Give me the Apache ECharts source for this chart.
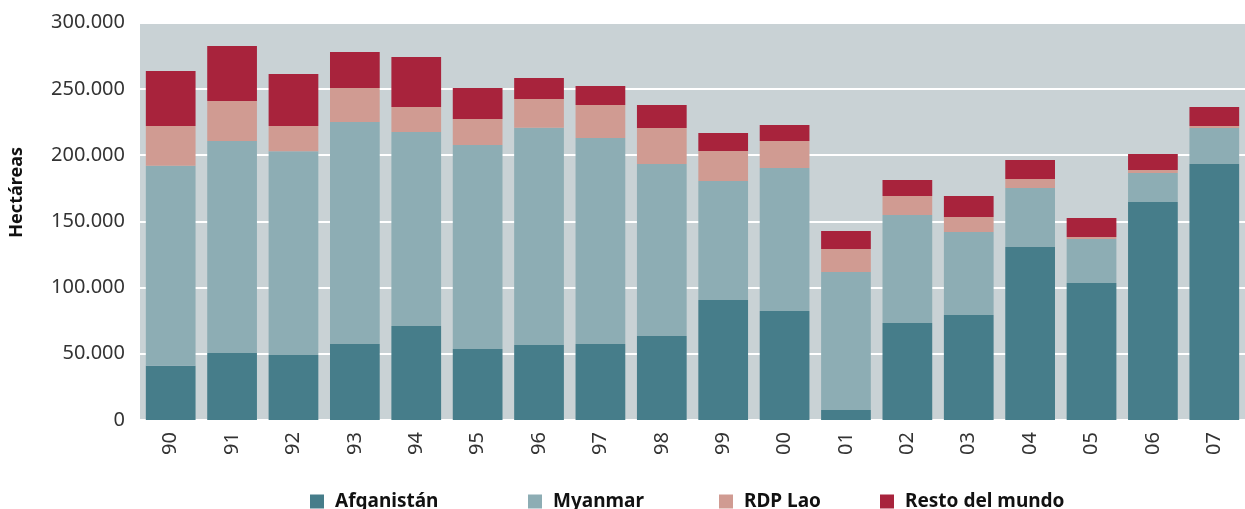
<!DOCTYPE html>
<html>
<head>
<meta charset="utf-8">
<script src="https://cdn.jsdelivr.net/npm/echarts@6/dist/echarts.min.js"></script>
<style>
	html, body { margin: 0; padding: 0; background: #fff; }
	#chart { width: 1245px; height: 509px; }
</style>
</head>
<body>
<div id="chart"></div>
<script>
	var years = ['90', '91', '92', '93', '94', '95', '96', '97', '98', '99', '00', '01', '02', '03', '04', '05', '06', '07'];
	var afganistan = [41000, 50600, 49000, 57400, 71000, 53600, 56600, 57400, 63400, 90600, 82300, 7600, 73200, 79300, 130600, 103400, 164600, 193300];
	var myanmar = [151000, 160100, 154000, 167600, 146500, 154100, 164100, 155500, 129900, 89900, 108000, 104200, 81600, 62700, 44600, 33300, 21900, 27200];
	var rdpLao = [30000, 30200, 19000, 25700, 18800, 19600, 21700, 25000, 27200, 22600, 20400, 17300, 14300, 11300, 6800, 1500, 2300, 1500];
	var resto = [41500, 41500, 39300, 27200, 37800, 23400, 15800, 14300, 17400, 13600, 12100, 13600, 12100, 15800, 14300, 14300, 12100, 14300];
	var yTicks = [0, 50000, 100000, 150000, 200000, 250000, 300000];

	var colors = ['#467d8a', '#8dadb4', '#d09b92', '#a8233c'];
	var names = ['Afganistán', 'Myanmar', 'RDP Lao', 'Resto del mundo'];
	var values = [afganistan, myanmar, rdpLao, resto];
	// each legend item placed on its own, as the gaps are uneven
	var legendLeft = [305, 523, 714, 875];

	function fmt(v) {
		return String(v).replace(/\B(?=(\d{3})+(?!\d))/g, '.');
	}

	var series = [];
	var legends = [];
	for (var i = 0; i < names.length; i++) {
		series.push({
			name: names[i],
			type: 'bar',
			stack: 'total',
			data: values[i],
			barCategoryGap: '19%',
			itemStyle: { color: colors[i] }
		});
		legends.push({
			data: [names[i]],
			left: legendLeft[i],
			top: 487,
			itemWidth: 14,
			itemHeight: 14,
			icon: 'rect',
			textStyle: {
				fontFamily: 'Noto Sans',
				fontWeight: 'bold',
				fontSize: 19,
				color: '#111',
				padding: [0, 0, 0, 6]
			}
		});
	}

	var chart = echarts.init(document.getElementById('chart'), null, { renderer: 'canvas' });
	chart.setOption({
		animation: false,
		textStyle: { fontFamily: 'Noto Sans' },
		legend: legends,
		grid: {
			left: 138,
			right: 0,
			top: 22.7,
			bottom: 89,
			show: true,
			backgroundColor: '#c9d2d5',
			borderWidth: 0
		},
		xAxis: {
			type: 'category',
			data: years,
			axisLine: { show: true, lineStyle: { color: '#ffffff', width: 2 } },
			axisTick: { show: false },
			axisLabel: {
				rotate: 90,
				margin: 12,
				fontSize: 20,
				color: '#333'
			}
		},
		yAxis: {
			type: 'value',
			min: 0,
			max: 300000,
			interval: 50000,
			name: 'Hectáreas',
			nameLocation: 'middle',
			nameGap: 114,
			nameTextStyle: {
				fontFamily: 'Noto Sans',
				fontWeight: 'bold',
				fontSize: 18,
				color: '#111',
				padding: [0, 0, 0, 58]
			},
			axisLine: { show: false },
			axisTick: { show: false },
			splitLine: { show: true, lineStyle: { color: '#ffffff', width: 2 } },
			axisLabel: {
				margin: 15,
				fontSize: 20,
				color: '#333',
				formatter: function (v) {
					return yTicks.indexOf(v) >= 0 ? fmt(v) : '';
				}
			}
		},
		series: series
	});
</script>
</body>
</html>
